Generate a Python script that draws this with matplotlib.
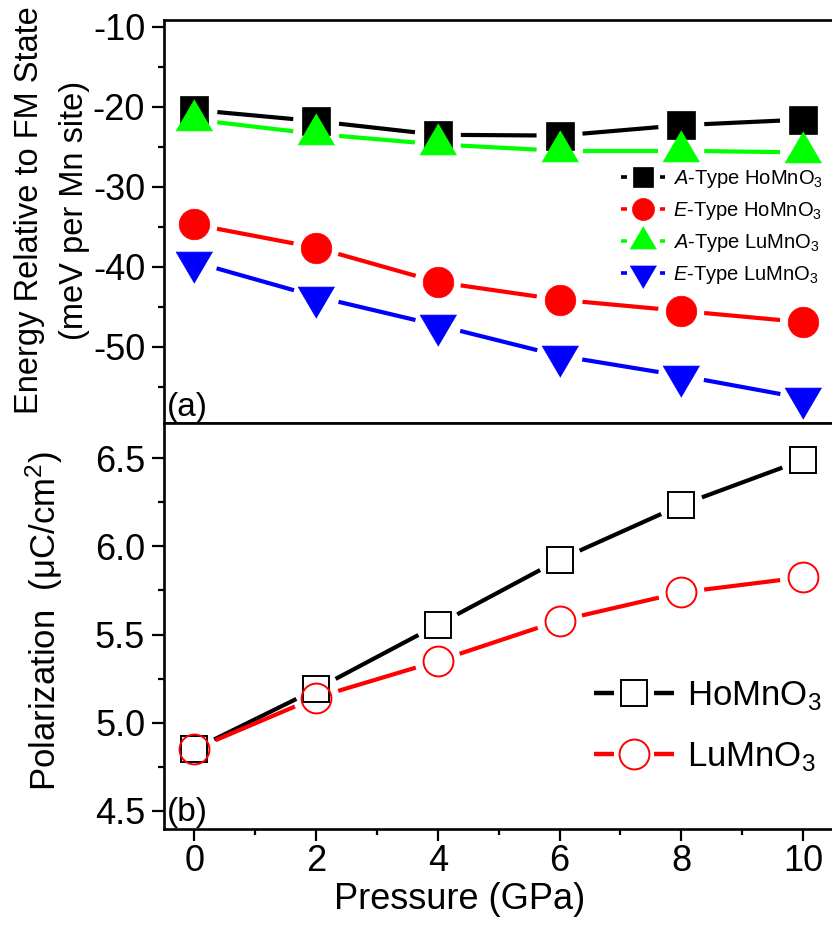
import numpy as np
import matplotlib
matplotlib.use('Agg')
import matplotlib.pyplot as plt
from matplotlib.lines import Line2D
from matplotlib.ticker import MultipleLocator, FormatStrFormatter

plt.rcParams['font.family'] = ['Liberation Sans', 'DejaVu Sans']
plt.rcParams['mathtext.fontset'] = 'custom'
plt.rcParams['mathtext.rm'] = 'Liberation Sans'
plt.rcParams['mathtext.it'] = 'Liberation Sans:italic'
plt.rcParams['axes.unicode_minus'] = False
plt.rcParams['lines.scale_dashes'] = False

# data
pressure = [0, 2, 4, 6, 8, 10]

# (a) energy relative to FM state (meV per Mn site)
a_ho = [-20.4, -21.8, -23.5, -23.6, -22.3, -21.6]
e_ho = [-34.7, -37.6, -41.9, -44.1, -45.5, -46.9]
a_lu = [-21.6, -23.4, -24.7, -25.5, -25.5, -25.7]
e_lu = [-39.4, -43.7, -47.3, -51.1, -53.6, -56.4]

# (b) polarization (uC/cm^2)
pol_ho = [4.85, 5.19, 5.556, 5.925, 6.235, 6.49]
pol_lu = [4.85, 5.143, 5.35, 5.579, 5.739, 5.825]

top_labels = [r'$\mathit{A}$-Type HoMnO$_3$', r'$\mathit{E}$-Type HoMnO$_3$',
              r'$\mathit{A}$-Type LuMnO$_3$', r'$\mathit{E}$-Type LuMnO$_3$']
bottom_labels = [r'HoMnO$_3$', r'LuMnO$_3$']

# triangles centred on their centroid (Origin style)
tri_up = [(0, 1), (-0.878, -0.5), (0.878, -0.5)]
tri_dn = [(0, -1), (-0.878, 0.5), (0.878, 0.5)]


def gapped_line(ax, x, y, color, lw, gap):
    # Origin draws the connecting line with a gap around each symbol
    pts = ax.transData.transform(np.column_stack([x, y]))
    inv = ax.transData.inverted()
    for p, q in zip(pts[:-1], pts[1:]):
        d = q - p
        u = d / np.hypot(*d)
        a = inv.transform(p + u * gap)
        b = inv.transform(q - u * gap)
        ax.plot([a[0], b[0]], [a[1], b[1]], color=color, lw=lw,
                solid_capstyle='butt', zorder=2)


fig = plt.figure(figsize=(8.32, 9.32), dpi=100)
W, H = 832.0, 932.0
left, right = 164.0, 833.4
ax1 = fig.add_axes([left / W, 1 - 423 / H, (right - left) / W, (423 - 19.5) / H])
ax2 = fig.add_axes([left / W, 1 - 828.5 / H, (right - left) / W, (828.5 - 423) / H])

for ax in (ax1, ax2):
    ax.set_xlim(-0.5, 10.5)
    for s in ax.spines.values():
        s.set_linewidth(1.9)
    ax.xaxis.set_major_locator(MultipleLocator(2))
    ax.xaxis.set_minor_locator(MultipleLocator(1))
    ax.tick_params(which='major', direction='out', length=8.5, width=1.6,
                   labelsize=26, pad=5)
    ax.tick_params(which='minor', direction='out', length=4.5, width=1.6)
    ax.tick_params(axis='x', pad=3)

ax1.set_ylim(-59.5, -9.1)
ax1.yaxis.set_major_locator(MultipleLocator(10))
ax1.yaxis.set_minor_locator(MultipleLocator(5))
ax1.tick_params(axis='x', labelbottom=False)

ax2.set_ylim(4.4, 6.7)
ax2.yaxis.set_major_locator(MultipleLocator(0.5))
ax2.yaxis.set_minor_locator(MultipleLocator(0.25))
ax2.yaxis.set_major_formatter(FormatStrFormatter('%.1f'))

# panel (a)
series = [(a_ho, 'black', 's', 19.5), (e_ho, 'red', 'o', 22),
          (a_lu, '#00ff00', tri_up, 30), (e_lu, 'blue', tri_dn, 30)]
handles = []
for i, (vals, c, m, ms) in enumerate(series):
    gapped_line(ax1, pressure, vals, c, 3.0, 23)
    ax1.plot(pressure, vals, ls='none', marker=m, ms=ms, color=c, mec=c,
             mew=0.5, zorder=3 + i)
    handles.append(Line2D([], [], color=c, lw=2.6, dashes=(4.3, 23.8),
                          marker=m, ms=ms * 0.72, mec=c, mew=0.5))

ax1.legend(handles, top_labels, loc='upper left', bbox_to_anchor=(0.682, 0.633),
           frameon=False, fontsize=14.5, handlelength=2.2, handletextpad=0.4,
           labelspacing=0.5, borderpad=0, borderaxespad=0)

ax1.set_ylabel('Energy Relative to FM State\n(meV per Mn site)', fontsize=23.5,
               linespacing=1.6)
ax1.yaxis.set_label_coords(-0.11, 0.528)
ax1.text(0.004, 0.0, '(a)', transform=ax1.transAxes, fontsize=24,
         ha='left', va='bottom')

# panel (b)
gapped_line(ax2, pressure, pol_ho, 'black', 3.0, 22)
gapped_line(ax2, pressure, pol_lu, 'red', 3.0, 23)
ax2.plot(pressure, pol_ho, ls='none', marker='s', ms=19, mfc='none',
         mec='black', mew=1.4, zorder=3)
ax2.plot(pressure, pol_lu, ls='none', marker='o', ms=21.5, mfc='none',
         mec='red', mew=1.4, zorder=4)
h2 = [Line2D([], [], color='black', lw=3.2, dashes=(14.4, 28.8), marker='s',
             ms=19, mfc='none', mec='black', mew=1.4),
      Line2D([], [], color='red', lw=3.2, dashes=(14.4, 28.8), marker='o',
             ms=21.5, mfc='none', mec='red', mew=1.4)]
ax2.legend(h2, bottom_labels, loc='upper left', bbox_to_anchor=(0.643, 0.368),
           frameon=False, fontsize=25, handlelength=2.3, handletextpad=0.37,
           labelspacing=0.78, borderpad=0, borderaxespad=0)

ax2.set_ylabel('Polarization  (\u03bcC/cm$^2$)', fontsize=25)
ax2.yaxis.set_label_coords(-0.148, 0.512)
ax2.set_xlabel('Pressure (GPa)', fontsize=26, labelpad=2)
ax2.xaxis.label.set_x(0.442)
ax2.text(0.004, 0.0, '(b)', transform=ax2.transAxes, fontsize=24,
         ha='left', va='bottom')

fig.savefig('out.png', dpi=100)
